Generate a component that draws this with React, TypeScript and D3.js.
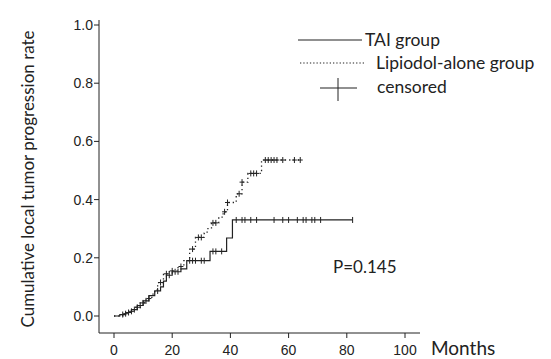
import React from "react";
import * as d3 from "d3";

const xTicks = [0, 20, 40, 60, 80, 100];
const yTicks = [0.0, 0.2, 0.4, 0.6, 0.8, 1.0];

// Kaplan-Meier steps [month, cumulative rate]
const taiSteps: [number, number][] = [
  [0, 0], [2, 0.005], [4, 0.012], [6, 0.022], [8, 0.036], [10, 0.052], [12, 0.07],
  [14, 0.086], [16, 0.1], [17, 0.12], [18, 0.14], [20, 0.152], [23, 0.162],
  [25, 0.19], [33, 0.222], [38.7, 0.268], [40.7, 0.33], [82, 0.33],
];
const taiCensored = [3, 5, 7, 9, 11, 15, 19, 21, 22, 26, 27, 28, 30, 31, 34, 35, 37, 42, 44, 45, 47, 49, 55, 58, 60, 63, 65, 66, 68, 69, 71, 82];

const lipSteps: [number, number][] = [
  [0, 0], [3, 0.008], [5, 0.016], [7, 0.03], [9, 0.045], [11, 0.06], [13, 0.075],
  [14, 0.09], [15, 0.115], [17, 0.145], [19, 0.155], [22, 0.17], [24, 0.19],
  [26, 0.23], [28, 0.27], [31, 0.285], [32, 0.3], [33.5, 0.32], [36, 0.34],
  [37.5, 0.358], [39, 0.39], [42, 0.42], [44, 0.46], [46, 0.49], [50.7, 0.536], [64, 0.536],
];
const lipCensored = [4, 6, 8, 10, 12, 16, 18, 20, 23, 27, 29, 30, 34, 35, 38, 39, 43, 44, 47, 48, 49, 52, 53, 54, 55, 56, 58, 62, 64];

const x = d3.scaleLinear().domain([0, 100]).range([114, 405]);
const y = d3.scaleLinear().domain([0, 1]).range([316, 25]);

function valueAt(steps: [number, number][], t: number) {
  let v = 0;
  for (const [m, r] of steps) if (m <= t) v = r;
  return v;
}

const stepLine = d3.line<[number, number]>().x(d => x(d[0])).y(d => y(d[1])).curve(d3.curveStepAfter);

const ink = "#222";
const sans = "Lato, Open Sans, sans-serif";
const arial = "Liberation Sans, Arial, sans-serif";

export default function App() {
  return (
    <svg width={551} height={359} style={{ position: "absolute", left: 0, top: 0, background: "#fff" }}>
      {/* axes */}
      <line x1={99} x2={99} y1={20} y2={333} stroke={ink} strokeWidth={1} />
      <line x1={99} x2={420} y1={333} y2={333} stroke={ink} strokeWidth={1} />
      {yTicks.map(t => (
        <g key={t}>
          <line x1={94} x2={99} y1={y(t)} y2={y(t)} stroke={ink} />
          <text x={93} y={y(t)} dy="0.35em" textAnchor="end" fontFamily={arial} fontSize={14} fill={ink}>
            {t.toFixed(1)}
          </text>
        </g>
      ))}
      {xTicks.map(t => (
        <g key={t}>
          <line x1={x(t)} x2={x(t)} y1={333} y2={338} stroke={ink} />
          <text x={x(t)} y={355} textAnchor="middle" fontFamily={arial} fontSize={14} fill={ink}>
            {t}
          </text>
        </g>
      ))}
      <text x={431} y={355} fontFamily={sans} fontSize={19} fill={ink}>Months</text>
      <text transform="translate(28,179) rotate(-90)" dy="0.35em" textAnchor="middle" fontFamily={sans} fontSize={17} fill={ink}>
        Cumulative  local tumor progression rate
      </text>

      {/* curves */}
      <path d={stepLine(taiSteps) || ""} fill="none" stroke={ink} strokeWidth={1.2} />
      <path d={stepLine(lipSteps) || ""} fill="none" stroke={ink} strokeWidth={1.3} strokeDasharray="1.3 3" />
      {taiCensored.map((t, i) => (
        <line key={"tc" + i} x1={x(t)} x2={x(t)} y1={y(valueAt(taiSteps, t)) - 3} y2={y(valueAt(taiSteps, t)) + 3} stroke={ink} strokeWidth={1} />
      ))}
      {lipCensored.map((t, i) => (
        <g key={"lc" + i}>
          <line x1={x(t)} x2={x(t)} y1={y(valueAt(lipSteps, t)) - 3} y2={y(valueAt(lipSteps, t)) + 3} stroke={ink} strokeWidth={1} />
          <line x1={x(t) - 2.5} x2={x(t) + 2.5} y1={y(valueAt(lipSteps, t))} y2={y(valueAt(lipSteps, t))} stroke={ink} strokeWidth={1} />
        </g>
      ))}

      {/* legend */}
      <line x1={298} x2={362} y1={40} y2={40} stroke={ink} strokeWidth={1.2} />
      <text x={365} y={40} dy="0.35em" fontFamily={sans} fontSize={17.5} fill={ink}>TAI group</text>
      <line x1={300} x2={365} y1={63} y2={63} stroke={ink} strokeWidth={1.2} strokeDasharray="1.3 2" />
      <text x={376} y={63} dy="0.35em" fontFamily={sans} fontSize={17.5} fill={ink}>Lipiodol-alone group</text>
      <line x1={320} x2={357} y1={88} y2={88} stroke={ink} strokeWidth={1.2} />
      <line x1={338} x2={338} y1={78} y2={101} stroke={ink} strokeWidth={1} />
      <text x={377} y={87} dy="0.35em" fontFamily={sans} fontSize={17.5} fill={ink}>censored</text>

      <text x={333} y={267} dy="0.35em" fontFamily={sans} fontSize={17} fill={ink}>P=0.145</text>
    </svg>
  );
}
